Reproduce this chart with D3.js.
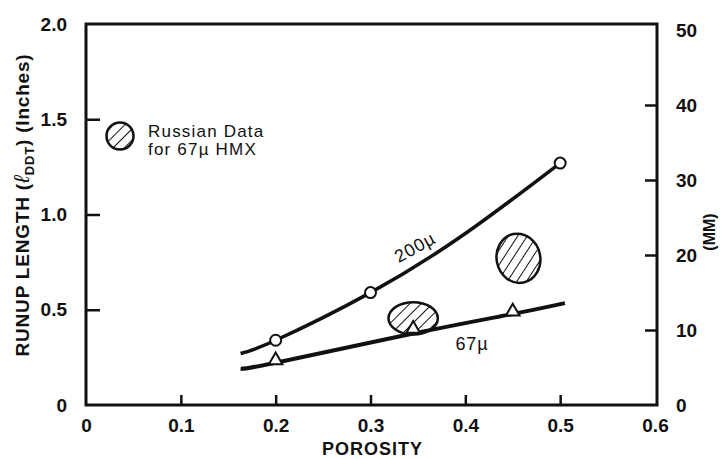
<!DOCTYPE html>
<html><head><meta charset="utf-8">
<script src="https://cdn.jsdelivr.net/npm/d3@7"></script>
<style>
body{margin:0;background:#fff;}
svg{display:block;font-family:"Liberation Sans",Arial,sans-serif;}
</style></head>
<body><svg id="c" width="725" height="459"></svg>
<script>
// ---- data ----
const xTicks = [0, 0.1, 0.2, 0.3, 0.4, 0.5, 0.6];
const xTickLabels = ["0", "0.1", "0.2", "0.3", "0.4", "0.5", "0.6"];
const yTicks = [0, 0.5, 1.0, 1.5, 2.0];
const yTickLabels = ["0", "0.5", "1.0", "1.5", "2.0"];
const mmTicks = [0, 10, 20, 30, 40, 50];
const mmTickLabels = ["0", "10", "20", "30", "40", "50"];

// 200 micron curve
const curve200Porosity = [0.163, 0.2, 0.3, 0.4, 0.5];
const curve200Length   = [0.27, 0.34, 0.59, 0.90, 1.27];
const points200Porosity = [0.2, 0.3, 0.5];
const points200Length   = [0.34, 0.59, 1.27];

// 67 micron curve
const curve67Porosity = [0.163, 0.2, 0.345, 0.45, 0.505];
const curve67Length   = [0.19, 0.222, 0.375, 0.478, 0.535];
const points67Porosity = [0.2, 0.345, 0.45];
const points67Length   = [0.235, 0.40, 0.49];

// Russian data regions (centre and half extents, in data units)
const russianPorosity = [0.345, 0.456];
const russianLength   = [0.455, 0.77];
const russianHalfPorosity = [0.026, 0.023];
const russianHalfLength   = [0.085, 0.13];

// ---- layout ----
const svg = d3.select("#c");
const L = 86, R = 657, T = 24, B = 405;
const ink = "#111";

const x = d3.scaleLinear().domain([0, 0.6]).range([L, R - 2]);
const y = d3.scaleLinear().domain([0, 2.0]).range([B, T]);
const ymm = d3.scaleLinear().domain([0, 2.0 * 25.4]).range([B, T]);

// hatch pattern
const defs = svg.append("defs");
const pat = defs.append("pattern").attr("id", "hatch").attr("patternUnits", "userSpaceOnUse")
  .attr("width", 8).attr("height", 8).attr("patternTransform", "rotate(45)");
pat.append("rect").attr("width", 8).attr("height", 8).attr("fill", "#fff");
pat.append("line").attr("x1", 0).attr("y1", 0).attr("x2", 0).attr("y2", 8)
  .attr("stroke", ink).attr("stroke-width", 2);

// frame
svg.append("rect").attr("x", L).attr("y", T).attr("width", R - L).attr("height", B - T)
  .attr("fill", "none").attr("stroke", ink).attr("stroke-width", 3);

// axes
const ax = svg.append("g").attr("transform", `translate(0,${B})`)
  .call(d3.axisBottom(x).tickValues(xTicks).tickSize(-10).tickPadding(14)
    .tickFormat((d, i) => xTickLabels[i]));
const ay = svg.append("g").attr("transform", `translate(${L},0)`)
  .call(d3.axisLeft(y).tickValues(yTicks).tickSize(-14).tickPadding(19)
    .tickFormat((d, i) => yTickLabels[i]));
const ar = svg.append("g").attr("transform", `translate(${R},0)`)
  .call(d3.axisRight(ymm).tickValues(mmTicks).tickSize(-12).tickPadding(19)
    .tickFormat((d, i) => mmTickLabels[i]));
[ax, ay, ar].forEach(g => {
  g.select(".domain").remove();
  g.selectAll(".tick line").attr("stroke", ink).attr("stroke-width", 2.5);
  g.selectAll(".tick text").attr("fill", ink).attr("font-size", 19).attr("font-weight", "bold")
    .attr("font-family", "Liberation Sans, Arial, sans-serif");
});
ax.selectAll(".tick line").filter(d => d === 0 || d === 0.6).remove();
ay.selectAll(".tick line").filter(d => d === 0 || d === 2).remove();
ar.selectAll(".tick line").filter(d => d === 0 || d === 50).remove();

// axis titles
svg.append("text").attr("x", x(0.3) + 2).attr("y", 455).attr("text-anchor", "middle")
  .attr("font-size", 18).attr("font-weight", "bold").attr("letter-spacing", 1)
  .attr("fill", ink).text("POROSITY");
svg.append("text").attr("transform", "translate(715,232) rotate(-90)").attr("text-anchor", "middle")
  .attr("font-size", 16).attr("font-weight", "bold").attr("fill", ink).text("(MM)");
const yt = svg.append("text").attr("transform", "translate(29,205) rotate(-90)")
  .attr("text-anchor", "middle").attr("font-size", 19).attr("font-weight", "bold")
  .attr("letter-spacing", 0.8).attr("fill", ink);
yt.append("tspan").text("RUNUP LENGTH (");
yt.append("tspan").attr("font-style", "italic").attr("font-size", 22).attr("font-weight", "normal").text("ℓ");
yt.append("tspan").attr("font-size", 13).attr("dy", 5).text("DDT");
yt.append("tspan").attr("dy", -5).text(") (Inches)");

// Russian data blobs
russianPorosity.forEach((p, i) => {
  const cx = x(p), cy = y(russianLength[i]);
  const rx = x(p + russianHalfPorosity[i]) - cx;
  const ry = cy - y(russianLength[i] + russianHalfLength[i]);
  svg.append("ellipse").attr("cx", cx).attr("cy", cy).attr("rx", rx).attr("ry", ry)
    .attr("fill", "url(#hatch)").attr("stroke", ink).attr("stroke-width", 2.5)
    .attr("transform", i === 1 ? `rotate(-12,${cx},${cy})` : null);
});

// curves
const line = d3.line().x(d => x(d[0])).y(d => y(d[1])).curve(d3.curveNatural);
svg.append("path").datum(d3.zip(curve200Porosity, curve200Length)).attr("d", line)
  .attr("fill", "none").attr("stroke", ink).attr("stroke-width", 3.5);
svg.append("path").datum(d3.zip(curve67Porosity, curve67Length)).attr("d", line)
  .attr("fill", "none").attr("stroke", ink).attr("stroke-width", 4);

// markers
svg.selectAll(".c200").data(d3.zip(points200Porosity, points200Length)).join("circle")
  .attr("cx", d => x(d[0])).attr("cy", d => y(d[1])).attr("r", 5.5)
  .attr("fill", "#fff").attr("stroke", ink).attr("stroke-width", 2);
const tri = d3.symbol().type(d3.symbolTriangle).size(80);
svg.selectAll(".t67").data(d3.zip(points67Porosity, points67Length)).join("path")
  .attr("d", tri).attr("transform", d => `translate(${x(d[0])},${y(d[1])})`)
  .attr("fill", "#fff").attr("stroke", ink).attr("stroke-width", 2);

// curve labels
svg.append("text").attr("transform", `translate(${x(0.35)},${y(0.8)}) rotate(-29)`)
  .attr("text-anchor", "middle").attr("font-size", 18).attr("letter-spacing", 0.8)
  .attr("fill", ink).text("200µ");
svg.append("text").attr("x", x(0.407)).attr("y", 350).attr("text-anchor", "middle")
  .attr("font-size", 18).attr("letter-spacing", 0.8).attr("fill", ink).text("67µ");

// legend
svg.append("circle").attr("cx", 120).attr("cy", 136).attr("r", 13.5)
  .attr("fill", "url(#hatch)").attr("stroke", ink).attr("stroke-width", 2.5);
svg.append("text").attr("x", 148).attr("y", 137).attr("font-size", 17).attr("letter-spacing", 1.2)
  .attr("fill", ink).text("Russian Data");
svg.append("text").attr("x", 148).attr("y", 155).attr("font-size", 17).attr("letter-spacing", 1.2)
  .attr("fill", ink).text("for 67µ HMX");
</script></body></html>
